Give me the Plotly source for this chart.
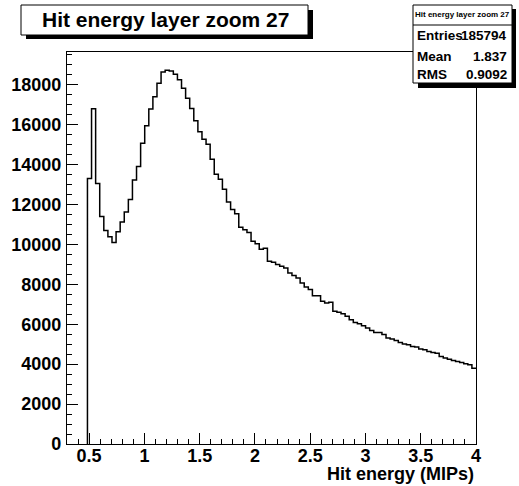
import plotly.graph_objects as go

# ---- data ----
x_min, x_max, n_bins = 0.3, 4.0, 100
counts = [0, 0, 0, 0, 0,
          13300, 16800, 13050, 11400, 10700, 10380, 10100, 10630, 11120, 11620,
          12250, 13230, 13900, 15070, 15940, 16780, 17400, 18080, 18640, 18720,
          18690, 18520, 18250, 17820, 17320, 16810, 16190, 15640, 15270, 15020,
          14270, 13510, 13260, 12760, 12120, 11750, 11540, 10860, 10740, 10600,
          10160, 10030, 9760, 9810, 9160, 9110, 8990, 8910, 8820, 8570,
          8440, 8320, 8070, 7870, 7740, 7430, 7430, 7150, 7060, 7100,
          6650, 6600, 6530, 6400, 6230, 6090, 6030, 5930, 5810, 5690,
          5590, 5590, 5480, 5310, 5260, 5190, 5090, 5010, 4970, 4890,
          4860, 4760, 4720, 4640, 4590, 4550, 4390, 4310, 4250, 4180,
          4130, 4080, 4020, 3970, 3800]
y_ticks = [0, 2000, 4000, 6000, 8000, 10000, 12000, 14000, 16000, 18000]
y_tick_text = ["0", "2000", "4000", "6000", "8000", "10000", "12000", "14000", "16000", "18000"]
x_ticks = [0.5, 1, 1.5, 2, 2.5, 3, 3.5, 4]
x_tick_text = ["0.5", "1", "1.5", "2", "2.5", "3", "3.5", "4"]
title = "Hit energy layer zoom 27"
stat_labels = ["Entries", "Mean", "RMS"]
stat_values = ["185794", "1.837", "0.9092"]
x_title = "Hit energy (MIPs)"
y_max = 19640

W, H = 519, 486
L, R, T, B = 67, 476, 52, 444

bw = (x_max - x_min) / n_bins
edges = [x_min + i * bw for i in range(n_bins + 1)]
ys = counts + [counts[-1]]
# start the outline at the first filled bin (empty bins lie on the axis line)
first = next(i for i, c in enumerate(counts) if c > 0)
xs_line = [edges[first]] + edges[first:]
ys_line = [0] + ys[first:]

FONT = "Liberation Sans"

def px(x):
    return (x - L) / (R - L)

def py(y):
    return (B - y) / (B - T)

fig = go.Figure()
fig.add_trace(go.Scatter(x=xs_line, y=ys_line, mode="lines", line=dict(shape="hv", color="black", width=1.5),
                         hoverinfo="skip", showlegend=False, cliponaxis=True))

axis_common = dict(showgrid=False, zeroline=False, showline=True, linecolor="black", linewidth=1.2,
                   mirror=True, ticks="inside", tickcolor="black", tickwidth=1.2,
                   tickfont=dict(family=FONT, size=18, color="black", weight="bold"))
fig.update_xaxes(range=[x_min, x_max], tickvals=x_ticks, ticktext=x_tick_text, ticklen=11,
                 ticklabelstandoff=-5,
                 minor=dict(dtick=0.1, tick0=0, ticks="inside", ticklen=5, tickcolor="black", tickwidth=1.2),
                 **axis_common)
fig.update_yaxes(range=[0, y_max], tickvals=y_ticks, ticktext=y_tick_text, ticklen=11,
                 ticklabelstandoff=1,
                 minor=dict(dtick=500, tick0=0, ticks="inside", ticklen=5, tickcolor="black", tickwidth=1.2),
                 **axis_common)

shapes = []
# title box with shadow
shapes.append(dict(type="rect", xref="paper", yref="paper", x0=px(26), x1=px(313), y0=py(39), y1=py(10),
                   fillcolor="black", line=dict(width=0), layer="above"))
shapes.append(dict(type="rect", xref="paper", yref="paper", x0=px(21), x1=px(308), y0=py(35), y1=py(5),
                   fillcolor="white", line=dict(color="black", width=1), layer="above"))
# stats box with shadow
shapes.append(dict(type="rect", xref="paper", yref="paper", x0=px(418), x1=px(516), y0=py(88), y1=py(9),
                   fillcolor="black", line=dict(width=0), layer="above"))
shapes.append(dict(type="rect", xref="paper", yref="paper", x0=px(413), x1=px(512), y0=py(83), y1=py(5),
                   fillcolor="white", line=dict(color="black", width=1), layer="above"))
shapes.append(dict(type="line", xref="paper", yref="paper", x0=px(413), x1=px(512), y0=py(25), y1=py(25),
                   line=dict(color="black", width=1), layer="above"))

ann = []
ann.append(dict(text=title, xref="paper", yref="paper", x=px(165), y=py(20), xanchor="center", yanchor="middle",
                showarrow=False, font=dict(family=FONT, size=21, color="black", weight="bold")))
ann.append(dict(text=title, xref="paper", yref="paper", x=px(462.5), y=py(15), xanchor="center", yanchor="middle",
                showarrow=False, font=dict(family=FONT, size=8, color="black", weight="bold")))
for i, (lab, val) in enumerate(zip(stat_labels, stat_values)):
    yc = [35, 56, 74][i]
    ann.append(dict(text=lab, xref="paper", yref="paper", x=px(415), y=py(yc), xanchor="left", yanchor="middle",
                    showarrow=False, font=dict(family=FONT, size=13.5, color="black", weight="bold")))
    ann.append(dict(text=val, xref="paper", yref="paper", x=px(509), y=py(yc), xanchor="right", yanchor="middle",
                    showarrow=False, font=dict(family=FONT, size=13.5, color="black", weight="bold")))
ann.append(dict(text=x_title, xref="paper", yref="paper", x=1, y=py(474), xanchor="right", yanchor="middle",
                showarrow=False, font=dict(family=FONT, size=18, color="black", weight="bold")))

fig.update_layout(width=W, height=H, margin=dict(l=L, r=W - R, t=T, b=H - B, pad=0),
                  paper_bgcolor="white", plot_bgcolor="white", shapes=shapes, annotations=ann,
                  showlegend=False)

fig.write_html("out.html", config={"displayModeBar": False})
